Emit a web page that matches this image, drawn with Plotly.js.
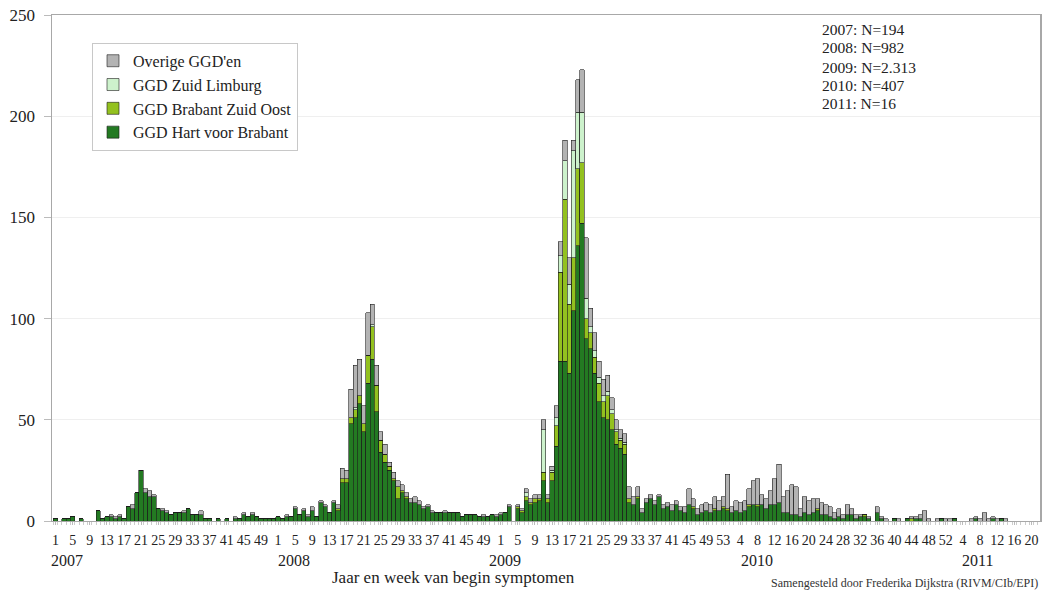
<!DOCTYPE html>
<html>
<head>
<meta charset="utf-8">
<script src="https://cdn.plot.ly/plotly-3.0.1.min.js"></script>
<style>html,body{margin:0;padding:0;background:#fff;}#chart{width:1042px;height:591px;}</style>
</head>
<body>
<div id="chart"></div>
<script>
// ---- Data: weekly Q-fever cases by week of first symptoms ----
const years = ['2007', '2008', '2009', '2010', '2011'];
const weeksInYear = [52, 52, 53, 52, 20];

// GGD Hart voor Brabant
const hart2007 = [1,0,1,1,2,0,1,0,0,0, 5,1,2,2,1,2,1, 7,6,14,25,14,12,12, 6,5,4,3,4,4,4,6,3,3,3,1,1, 0,1,0,1,0,1,1,3,2,3,2,1,1,1,1];
const hart2008 = [2,1,2,2,6,3,5,2,5,2, 9,7,4,9,5,19,19, 48,51,58,44,68,80,54, 34,29,25,20,11,14,11,9, 9,8,6,7,4,4,4,4,4,4,4,2,3,3,3,2,2,2,3,2];
const hart2009 = [3,4,7,0,6,4,10,8,9,10, 20,9,20,37,79,79,73,104,136,147, 90,85,73,59,51,50,45,38,36,33, 9,8,11,4,9,11,8,12,6,7,5,8,5,4,8, 6,3,4,5,4,5,5,6];
const hart2010 = [5,4,5,4,5,7,8,7,8,6, 8,8,9,4,4,3,3,2,4,3, 4,5,3,3,2,1,2,1,3,3, 1,2,2,1,0,4,1,0,0,1, 0,0,1,0,1,1,0,0,0,0,1,0];
const hart2011 = [0,1,0,0,0,0,1,0,0,0,1,0,1,0,0,0,0,0,0,0];

// GGD Brabant Zuid Oost
const bzo2007 = [0,0,0,0,0,0,0,0,0,0, 0,0,0,0,0,0,0, 0,0,0,0,0,0,0, 0,0,0,0,0,0,0,0,0,0,0,0,0, 0,0,0,0,0,0,0,0,0,0,0,0,0,0,0];
const bzo2008 = [0,0,0,0,0,0,0,0,0,0, 0,0,0,0,1,2,2, 3,4,4,4,14,16,13, 6,4,2,1,6,1,1,0, 0,0,0,0,0,0,0,0,0,0,0,0,0,0,0,0,0,0,0,0];
const bzo2009 = [0,0,0,0,1,1,2,1,2,1, 4,2,4,10,44,80,34,26,38,30, 10,8,8,9,8,12,8,6,4,5, 2,0,1,0,0,0,0,0,0,0,0,0,0,0,0, 1,0,0,0,0,1,0,1];
const bzo2010 = [1,0,0,0,0,1,0,1,0,0, 0,0,0,0,0,0,0,0,0,0, 0,1,0,0,0,0,0,0,0,0, 0,0,1,0,0,0,0,0,0,0, 0,0,0,1,0,0,0,0,0,0,0,0];
const bzo2011 = [0,0,0,0,0,0,0,0,0,0,0,0,0,0,0,0,0,0,0,0];

// GGD Zuid Limburg
const zl2007 = [0,0,0,0,0,0,0,0,0,0, 0,0,0,0,0,0,0, 0,0,0,0,0,0,0, 0,0,0,0,0,0,0,0,0,0,0,0,0, 0,0,0,0,0,0,0,0,0,0,0,0,0,0,0];
const zl2008 = [0,0,0,0,0,0,0,0,0,0, 0,0,0,0,0,0,0, 0,1,0,0,0,1,0, 0,0,0,0,0,0,0,0, 0,0,0,0,0,0,0,0,0,0,0,0,0,0,0,0,0,0,0,0];
const zl2009 = [0,0,0,0,0,0,2,0,0,0, 21,0,1,4,8,19,10,53,28,25, 10,3,3,3,3,2,2,1,1,1, 0,0,0,0,0,0,0,0,0,0,0,0,0,0,0, 0,0,0,0,0,0,0,0];
const zl2010 = [0,0,0,0,0,0,0,0,0,0, 0,0,0,0,0,0,0,0,0,0, 0,0,0,0,0,0,0,0,0,0, 0,0,0,0,0,0,0,0,0,0, 0,0,0,0,0,0,0,0,0,0,0,0];
const zl2011 = [0,0,0,0,0,0,0,0,0,0,0,0,0,0,0,0,0,0,0,0];

// Overige GGD'en
const ov2007 = [0,0,0,0,0,0,0,0,0,0, 0,0,0,1,1,1,0, 0,2,0,0,2,3,1, 0,1,1,0,0,0,1,0,0,0,2,0,0, 0,0,0,0,0,1,0,1,0,1,0,0,0,0,0];
const ov2008 = [0,0,1,0,1,0,1,1,2,0, 1,1,0,1,2,5,4, 14,21,18,9,21,10,10, 4,5,2,3,3,3,2,2, 3,2,1,1,1,0,0,1,0,0,0,0,0,0,0,0,1,0,0,1];
const ov2009 = [1,0,1,0,1,1,2,2,2,2, 5,2,2,6,7,10,13,5,16,21, 30,9,9,8,8,8,6,5,4,4, 6,4,5,2,2,2,2,1,2,2,3,2,2,3,8, 4,3,4,4,4,6,5,5];
const ov2010 = [17,3,5,5,5,8,12,13,5,5, 7,13,19,8,11,15,14,4,8,7, 7,5,6,5,5,3,4,2,5,3, 2,1,0,1,0,3,1,1,0,0, 1,0,0,1,1,2,5,1,0,1,0,1];
const ov2011 = [1,0,0,0,0,1,1,1,4,1,1,1,0,1,0,0,0,0,0,0];

// Tick labels (week numbers shown under the axis, per year)
const tickWeeks = [
  [1,5,9,13,17,21,25,29,33,37,41,45,49],
  [1,5,9,13,17,21,25,29,33,37,41,45,49],
  [1,5,9,13,17,21,25,29,33,37,41,45,49,53],
  [4,8,12,16,20,24,28,32,36,40,44,48,52],
  [4,8,12,16,20]
];
// where each year label sits (week of that year under which it is centred)
const yearLabelWeek = [3.7, 4.8, 1.9, 7.9, 7.5];
const nTexts = ['2007: N=194', '2008: N=982', '2009: N=2.313', '2010: N=407', '2011: N=16'];
const nTextY = [242.6, 233.7, 224.3, 215.4, 206.5];

// ---- Build ----
const offsets = [];
let acc = 0;
weeksInYear.forEach(n => { offsets.push(acc); acc += n; });
const nWeeks = acc;
const xIdx = [];
for (let i = 0; i < nWeeks; i++) xIdx.push(i);

const hart = [].concat(hart2007, hart2008, hart2009, hart2010, hart2011);
const bzo = [].concat(bzo2007, bzo2008, bzo2009, bzo2010, bzo2011);
const zl = [].concat(zl2007, zl2008, zl2009, zl2010, zl2011);
const ov = [].concat(ov2007, ov2008, ov2009, ov2010, ov2011);

const tickvals = [], ticktext = [];
tickWeeks.forEach((arr, y) => arr.forEach(w => { tickvals.push(offsets[y] + w - 1); ticktext.push(String(w)); }));

const serif = 'Liberation Serif, Times New Roman, serif';
const outline = {color: '#1c1c1c', width: 0.6};

function bar(name, y, color) {
  return {type: 'bar', name: name, x: xIdx, y: y, marker: {color: color, line: outline},
          hoverinfo: 'skip'};
}
const traces = [
  bar('GGD Hart voor Brabant', hart, '#237a22'),
  bar('GGD Brabant Zuid Oost', bzo, '#93c11f'),
  bar('GGD Zuid Limburg', zl, '#cdf2cc'),
  bar("Overige GGD'en", ov, '#b3b3b3')
];

const annotations = [];
years.forEach((yr, k) => annotations.push({
  text: yr, xref: 'x', yref: 'paper', x: offsets[k] + yearLabelWeek[k] - 1, y: -0.078,
  xanchor: 'center', yanchor: 'middle', showarrow: false, font: {family: serif, size: 16, color: '#222'}
}));
nTexts.forEach((t, k) => annotations.push({
  text: t, xref: 'x', yref: 'y', x: 178.6, y: nTextY[k], xanchor: 'left', yanchor: 'middle',
  showarrow: false, font: {family: serif, size: 15.5, color: '#222'}
}));
annotations.push({
  text: 'Jaar en week van begin symptomen', xref: 'x', yref: 'paper', x: 92.9, y: -0.1126,
  xanchor: 'center', yanchor: 'middle', showarrow: false, font: {family: serif, size: 17, color: '#222'}
});
annotations.push({
  text: 'Samengesteld door Frederika Dijkstra (RIVM/CIb/EPI)', xref: 'paper', yref: 'paper', x: 1, y: -0.1225,
  xanchor: 'right', yanchor: 'middle', showarrow: false, font: {family: serif, size: 12, color: '#333'}
});

const layout = {
  width: 1042, height: 591,
  margin: {l: 52, r: 2, t: 15, b: 70},
  paper_bgcolor: '#fff', plot_bgcolor: '#fff',
  barmode: 'stack', bargap: 0,
  showlegend: true,
  legend: {x: 0.0405, y: 0.945, xanchor: 'left', yanchor: 'top', traceorder: 'reversed',
           bgcolor: '#fff', bordercolor: '#c8c8c8', borderwidth: 1,
           font: {family: serif, size: 16, color: '#222'}},
  xaxis: {range: [-0.82, 230.0], tickmode: 'array', tickvals: tickvals, ticktext: ticktext,
          tickangle: 0, ticks: 'outside', ticklen: 3, tickcolor: '#bbb', ticklabelstandoff: 3,
          minor: {ticks: 'outside', ticklen: 3, dtick: 1, tick0: 0.5, tickcolor: '#ccc', showgrid: false},
          showline: true, linecolor: '#a8a8a8', linewidth: 1, mirror: true,
          showgrid: false, zeroline: false, fixedrange: true,
          tickfont: {family: serif, size: 14, color: '#222'}},
  yaxis: {range: [0, 250], tickvals: [0, 50, 100, 150, 200, 250], ticks: 'outside', ticklen: 7,
          tickcolor: '#bbb', ticklabelstandoff: 5,
          showline: true, linecolor: '#a8a8a8', linewidth: 1.5, mirror: true,
          showgrid: true, gridcolor: '#efefef', zeroline: false, fixedrange: true,
          tickfont: {family: serif, size: 17, color: '#222'}},
  annotations: annotations
};

Plotly.newPlot('chart', traces, layout, {displayModeBar: false, staticPlot: true});
</script>
</body>
</html>
